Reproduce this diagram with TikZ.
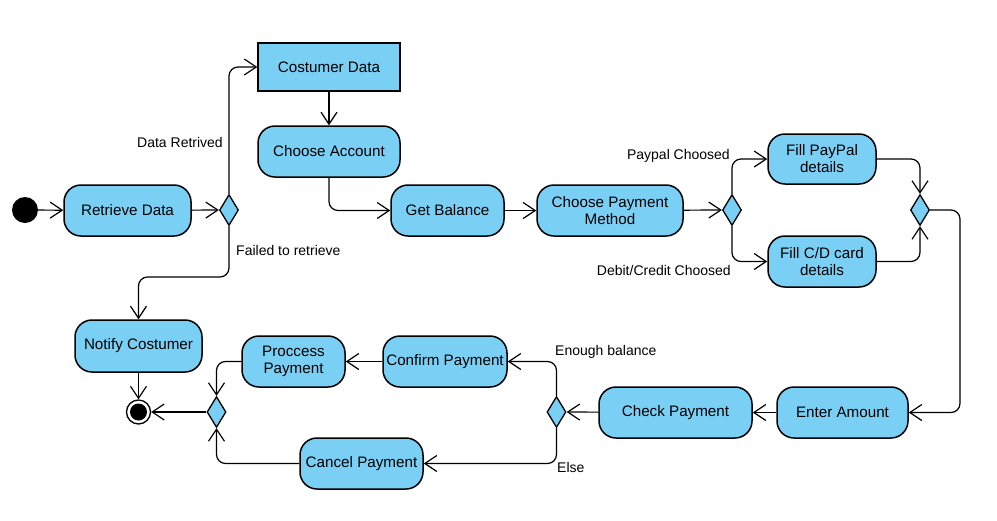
\documentclass[tikz,border=0pt]{standalone}
\usepackage{fontspec}
\setmainfont{Liberation Sans}
\usetikzlibrary{arrows.meta,shapes.geometric}
\definecolor{nodeblue}{HTML}{7ACFF4}
\tikzset{
  every node/.style={font=\fontsize{15.2}{17}\selectfont},
  act/.style={draw=black, line width=1.5pt, fill=nodeblue, rounded corners=17pt, align=center, inner sep=0pt},
  dataobj/.style={draw=black, line width=1.3pt, fill=nodeblue, align=center, inner sep=0pt},
  decision/.style={draw=black, line width=1.3pt, fill=nodeblue, diamond, inner sep=0pt, minimum width=19pt, minimum height=31pt, aspect=0.6},
  lbl/.style={font=\fontsize{14}{16}\selectfont, inner sep=0pt},
  flow/.style={draw=black, line width=1.2pt, rounded corners=9pt, -{Straight Barb[length=12pt,width=16pt,line width=1.2pt]}},
}
\begin{document}
\begin{tikzpicture}[x=1pt,y=-1pt]
\useasboundingbox (0,0) rectangle (997,520);
% nodes
\node[circle, fill=black, minimum size=26pt, inner sep=0pt] (start) at (25,210) {};
\node[act, minimum width=127pt, minimum height=51pt] (retrieve) at (127.5,210.5) {Retrieve Data};
\node[decision] (d1) at (229,210) {};
\node[dataobj, minimum width=142pt, minimum height=48pt] (custdata) at (329,67) {Costumer Data};
\node[act, minimum width=142pt, minimum height=51pt] (choose) at (329,151.5) {Choose Account};
\node[act, minimum width=113pt, minimum height=51pt] (balance) at (447.5,210.5) {Get Balance};
\node[act, minimum width=146pt, minimum height=51pt] (method) at (610,210.5) {Choose Payment\\Method};
\node[decision] (d2) at (732,210) {};
\node[act, minimum width=108pt, minimum height=50pt] (paypal) at (822,159) {Fill PayPal\\details};
\node[act, minimum width=108pt, minimum height=51pt] (card) at (822,261.5) {Fill C/D card\\details};
\node[decision] (d3) at (920,210) {};
\node[act, minimum width=131pt, minimum height=51pt] (amount) at (842.5,412.5) {Enter Amount};
\node[act, minimum width=153pt, minimum height=51pt] (check) at (675.5,412.5) {Check Payment};
\node[decision] (d4) at (556.5,412) {};
\node[act, minimum width=124pt, minimum height=51pt] (confirm) at (445,361.5) {Confirm Payment};
\node[act, minimum width=103pt, minimum height=51pt] (process) at (293.5,361.5) {Proccess\\Payment};
\node[act, minimum width=123pt, minimum height=51pt] (cancel) at (361.5,463.5) {Cancel Payment};
\node[decision] (d5) at (216.5,412) {};
\node[act, minimum width=127pt, minimum height=52pt] (notify) at (138.5,346) {Notify Costumer};
\node[circle, draw=black, line width=1.3pt, fill=white, minimum size=24pt, inner sep=0pt] (final) at (138.5,412) {};
\fill[black] (final.center) circle (8.5pt);
% connectors
\draw[flow] (start) -- (retrieve);
\draw[flow] (retrieve) -- (d1.west);
\draw[flow] (d1.north) |- (custdata.west);
\draw[flow] (d1.south) |- (138.5,277) -- (notify.north);
\draw[flow] (custdata) -- (choose);
\draw[flow] (choose.south) |- (balance.west);
\draw[flow] (balance) -- (method);
\draw[flow] (method) -- (d2.west);
\draw[flow] (d2.north) |- (paypal.west);
\draw[flow] (d2.south) |- (card.west);
\draw[flow] (paypal.east) -| (d3.north);
\draw[flow] (card.east) -| (d3.south);
\coordinate (r1) at (960,210);
\draw[flow] (d3.east) -- (r1) |- (amount.east);
\draw[flow] (amount) -- (check);
\draw[flow] (check) -- (d4.east);
\draw[flow] (d4.north) |- (confirm.east);
\draw[flow] (d4.south) |- (cancel.east);
\draw[flow] (confirm) -- (process);
\draw[flow] (process.west) -| (d5.north);
\draw[flow] (cancel.west) -| (d5.south);
\draw[flow] (d5.west) -- (final);
\draw[flow] (notify) -- (final);
% labels
\node[lbl, anchor=east] (l1) at (223,142) {Data Retrived};
\node[lbl, anchor=west] (l2) at (236,250) {Failed to retrieve};
\node[lbl, anchor=east] (l3) at (730,156) {Paypal Choosed};
\node[lbl, anchor=east] (l4) at (731,270) {Debit/Credit Choosed};
\node[lbl, anchor=west] (l5) at (555,352) {Enough balance};
\node[lbl, anchor=west] (l6) at (557,467) {Else};
\end{tikzpicture}
\end{document}
